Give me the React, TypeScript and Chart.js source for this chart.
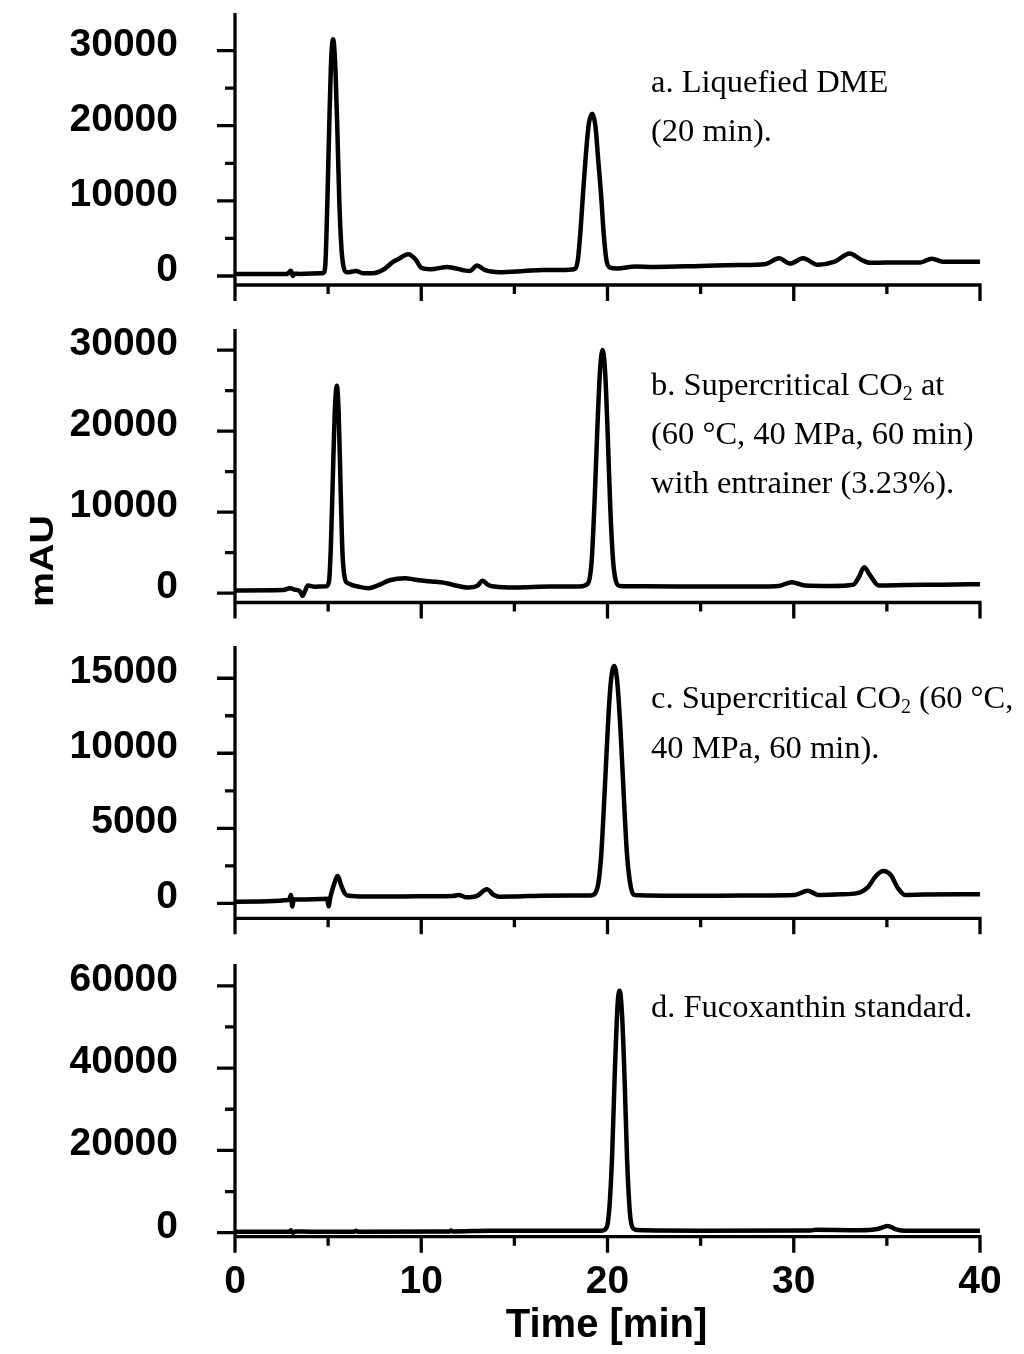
import React, { useEffect, useRef } from "react";
import { Chart, registerables } from "chart.js";

Chart.register(...registerables);

// ---------- data ----------
const X_MAJOR = [0, 10, 20, 30, 40];
const X_MINOR = [5, 15, 25, 35];
const X_LABELS = ["0", "10", "20", "30", "40"];
const X_TITLE = "Time [min]";
const Y_TITLE = "mAU";

const TIME_A = [0, 2.8, 3.0, 3.1, 3.2, 3.5, 4.6, 4.75, 4.85, 4.95, 5.05, 5.15, 5.27, 5.4, 5.5, 5.6, 5.72, 5.85, 6.0, 6.5, 6.9, 7.5, 8.0, 8.5, 8.8, 9.3, 9.7, 10.0, 10.5, 11.4, 12.2, 12.6, 13.0, 13.4, 14.2, 15.5, 16.5, 17.5, 18.2, 18.4, 18.55, 18.7, 18.85, 19.0, 19.18, 19.35, 19.5, 19.65, 19.8, 19.95, 20.15, 20.5, 21.5, 22.5, 25, 27, 28.5, 29.2, 29.8, 30.5, 31.3, 32.2, 33.0, 33.6, 34.1, 35, 36.8, 37.4, 38, 40];
const SIGNAL_A = [250, 270, 700, 0, 300, 280, 350, 400, 1500, 9000, 19000, 28000, 31500, 27000, 19000, 10000, 3500, 1000, 500, 650, 350, 400, 900, 1900, 2300, 2900, 2200, 1100, 900, 1200, 800, 650, 1400, 800, 500, 650, 800, 800, 900, 2000, 6000, 11500, 16500, 20300, 21600, 20000, 15500, 11000, 5500, 2000, 1100, 1000, 1250, 1200, 1330, 1450, 1600, 2350, 1650, 2350, 1500, 1900, 3000, 2200, 1750, 1800, 1800, 2300, 1900, 1900];

const TIME_B = [0, 2.6, 2.93, 3.2, 3.5, 3.63, 3.75, 3.91, 4.3, 4.9, 5.05, 5.15, 5.25, 5.35, 5.47, 5.57, 5.67, 5.77, 5.9, 6.05, 6.3, 6.6, 7.16, 7.7, 8.3, 9.14, 9.6, 10.55, 11.2, 11.68, 12.53, 13.0, 13.3, 13.6, 13.94, 15, 17, 18.5, 18.95, 19.15, 19.3, 19.45, 19.6, 19.74, 19.88, 20.02, 20.15, 20.3, 20.45, 20.65, 22, 25, 28, 29.2, 29.9, 30.6, 32, 33.2, 33.5, 33.78, 34.1, 34.57, 36, 38, 40];
const SIGNAL_B = [330, 380, 620, 450, 200, -330, 200, 950, 800, 850, 1500, 6000, 14000, 22000, 25600, 22000, 13000, 5000, 1800, 1250, 1000, 820, 620, 1000, 1600, 1850, 1700, 1450, 1300, 1050, 700, 900, 1520, 1000, 820, 700, 820, 820, 1200, 4000, 11000, 20000, 27500, 30000, 27000, 19000, 10500, 4000, 1500, 900, 850, 830, 820, 900, 1360, 950, 900, 1050, 2000, 3200, 2200, 950, 1000, 1050, 1110];

const TIME_C = [0, 2.9, 3.0, 3.08, 3.15, 3.5, 4.6, 4.95, 5.02, 5.12, 5.3, 5.52, 5.7, 5.9, 6.1, 7, 9, 11, 11.7, 12.0, 12.4, 13.0, 13.52, 13.9, 14.2, 15, 16.4, 18, 19.1, 19.45, 19.65, 19.85, 20.05, 20.2, 20.36, 20.52, 20.7, 20.88, 21.05, 21.25, 21.45, 23, 26, 28, 30.05, 30.76, 31.3, 32.5, 33.4, 34.0, 34.4, 34.8, 35.2, 35.6, 35.97, 37, 40];
const SIGNAL_C = [110, 220, 560, -220, 250, 250, 280, 300, -200, 400, 1200, 1820, 1200, 650, 500, 450, 460, 470, 480, 560, 400, 500, 930, 550, 444, 450, 510, 520, 520, 1000, 3000, 7500, 12500, 15000, 15820, 14800, 11500, 7000, 3200, 1100, 550, 510, 510, 520, 550, 844, 560, 600, 680, 1100, 1800, 2155, 1900, 1000, 560, 580, 600];

const TIME_D = [0, 2.9, 3.0, 3.1, 3.25, 4, 6.4, 6.5, 6.6, 11.5, 11.6, 11.7, 13.7, 19.7, 19.95, 20.1, 20.25, 20.4, 20.55, 20.65, 20.78, 20.92, 21.05, 21.2, 21.35, 21.6, 25, 30.9, 31.2, 33.5, 34.5, 35.04, 35.5, 36, 40];
const SIGNAL_D = [240, 250, 600, 0, 300, 250, 260, 500, 260, 300, 520, 300, 480, 500, 1200, 6000, 19000, 40000, 56000, 58800, 53000, 37000, 18000, 5000, 1200, 650, 500, 560, 700, 600, 900, 1620, 800, 450, 450];

const Y_MAJOR_A = [0, 10000, 20000, 30000];
const Y_MINOR_A = [5000, 15000, 25000];
const Y_MAJOR_B = [0, 10000, 20000, 30000];
const Y_MINOR_B = [5000, 15000, 25000];
const Y_MAJOR_C = [0, 5000, 10000, 15000];
const Y_MINOR_C = [2500, 7500, 12500];
const Y_MAJOR_D = [0, 20000, 40000, 60000];
const Y_MINOR_D = [10000, 30000, 50000];

const NOTE_A = ["a. Liquefied DME", "(20 min)."];
const NOTE_B = ["b. Supercritical CO₂ at", "(60 °C, 40 MPa, 60 min)", "with entrainer (3.23%)."];
const NOTE_C = ["c. Supercritical CO₂ (60 °C,", "40 MPa, 60 min)."];
const NOTE_D = ["d. Fucoxanthin standard."];

// ---------- layout / style ----------
const TICK_FONT = 'bold 39px "Liberation Sans", Arial, sans-serif';
const TITLE_FONT = 'bold 40px "Liberation Sans", Arial, sans-serif';
const NOTE_FONT = '32.5px "Liberation Serif", "Times New Roman", serif';
const SUB_FONT = '20px "Liberation Serif", "Times New Roman", serif';

type PanelCfg = {
  time: number[];
  signal: number[];
  yMajor: number[];
  yMinor: number[];
  notes: string[];
  top: number;
  height: number;
  padTop: number;
  padBottom: number;
  yMin: number;
  yMax: number;
  noteY: number;
  noteStep: number;
  extra?: "mau" | "xaxis";
};

const PANELS: PanelCfg[] = [
  { time: TIME_A, signal: SIGNAL_A, yMajor: Y_MAJOR_A, yMinor: Y_MINOR_A, notes: NOTE_A, top: 0, height: 320, padTop: 13, padBottom: 35, yMin: -1200, yMax: 35000, noteY: 92, noteStep: 49 },
  { time: TIME_B, signal: SIGNAL_B, yMajor: Y_MAJOR_B, yMinor: Y_MINOR_B, notes: NOTE_B, top: 320, height: 310, padTop: 9, padBottom: 27.5, yMin: -1150, yMax: 32600, noteY: 75, noteStep: 49, extra: "mau" },
  { time: TIME_C, signal: SIGNAL_C, yMajor: Y_MAJOR_C, yMinor: Y_MINOR_C, notes: NOTE_C, top: 630, height: 310, padTop: 16, padBottom: 21.7, yMin: -1000, yMax: 17150, noteY: 78, noteStep: 50 },
  { time: TIME_D, signal: SIGNAL_D, yMajor: Y_MAJOR_D, yMinor: Y_MINOR_D, notes: NOTE_D, top: 940, height: 414, padTop: 24, padBottom: 117.3, yMin: -970, yMax: 65300, noteY: 77, noteStep: 49, extra: "xaxis" },
];

function drawRich(ctx: CanvasRenderingContext2D, text: string, x: number, y: number) {
  const parts = text.split("₂");
  let cx = x;
  parts.forEach((part, i) => {
    ctx.font = NOTE_FONT;
    ctx.fillText(part, cx, y);
    cx += ctx.measureText(part).width;
    if (i < parts.length - 1) {
      ctx.font = SUB_FONT;
      ctx.fillText("2", cx, y + 5);
      cx += ctx.measureText("2").width;
    }
  });
}

function makeAxesPlugin(cfg: PanelCfg) {
  return {
    id: "hplcAxes",
    afterDraw(chart: any) {
      const { ctx, chartArea, scales } = chart;
      const { left, right, top, bottom } = chartArea;
      const xs = scales.x;
      const ys = scales.y;
      ctx.save();
      ctx.strokeStyle = "#000";
      ctx.fillStyle = "#000";
      ctx.lineWidth = 3.3;
      ctx.lineCap = "butt";
      ctx.beginPath();
      ctx.moveTo(left, top);
      ctx.lineTo(left, bottom + 16);
      ctx.moveTo(left - 1.6, bottom);
      ctx.lineTo(right + 1.6, bottom);
      X_MAJOR.forEach((v) => {
        const p = xs.getPixelForValue(v);
        ctx.moveTo(p, bottom);
        ctx.lineTo(p, bottom + 16);
      });
      X_MINOR.forEach((v) => {
        const p = xs.getPixelForValue(v);
        ctx.moveTo(p, bottom);
        ctx.lineTo(p, bottom + 9);
      });
      cfg.yMajor.forEach((v) => {
        const p = ys.getPixelForValue(v);
        ctx.moveTo(left - 18, p);
        ctx.lineTo(left, p);
      });
      cfg.yMinor.forEach((v) => {
        const p = ys.getPixelForValue(v);
        ctx.moveTo(left - 10, p);
        ctx.lineTo(left, p);
      });
      ctx.stroke();

      ctx.font = TICK_FONT;
      ctx.textAlign = "right";
      ctx.textBaseline = "alphabetic";
      cfg.yMajor.forEach((v) => {
        ctx.fillText(String(v), 178, ys.getPixelForValue(v) + 5);
      });

      ctx.textAlign = "left";
      cfg.notes.forEach((line, i) => {
        drawRich(ctx, line, 651, cfg.noteY + i * cfg.noteStep);
      });

      if (cfg.extra === "xaxis") {
        ctx.font = TICK_FONT;
        ctx.textAlign = "center";
        X_MAJOR.forEach((v, i) => {
          ctx.fillText(X_LABELS[i], xs.getPixelForValue(v), 353);
        });
        ctx.font = TITLE_FONT;
        ctx.fillText(X_TITLE, (left + right) / 2 - 1, 397);
      }
      if (cfg.extra === "mau") {
        ctx.font = 'bold 33px "Liberation Sans", Arial, sans-serif';
        ctx.textAlign = "center";
        ctx.textBaseline = "middle";
        const w = ctx.measureText(Y_TITLE).width;
        ctx.translate(44, 241);
        ctx.rotate(-Math.PI / 2);
        ctx.scale(92 / w, 1);
        ctx.fillText(Y_TITLE, 0, 0);
      }
      ctx.restore();
    },
  };
}

function Panel({ cfg }: { cfg: PanelCfg }) {
  const ref = useRef<HTMLCanvasElement>(null);
  useEffect(() => {
    const chart = new Chart(ref.current as HTMLCanvasElement, {
      type: "line",
      data: {
        datasets: [
          {
            data: cfg.time.map((t, i) => ({ x: t, y: cfg.signal[i] })),
            borderColor: "#000",
            borderWidth: 4.5,
            pointRadius: 0,
            fill: false,
            cubicInterpolationMode: "monotone",
            borderJoinStyle: "round",
          },
        ],
      },
      options: {
        responsive: false,
        animation: false,
        events: [],
        devicePixelRatio: 1,
        layout: { padding: { left: 235, right: 44, top: cfg.padTop, bottom: cfg.padBottom } },
        scales: {
          x: { type: "linear", min: 0, max: 40, display: false },
          y: { type: "linear", min: cfg.yMin, max: cfg.yMax, display: false },
        },
        plugins: { legend: { display: false }, tooltip: { enabled: false } },
      },
      plugins: [makeAxesPlugin(cfg)],
    } as any);
    return () => chart.destroy();
  }, [cfg]);
  return (
    <canvas
      ref={ref}
      width={1024}
      height={cfg.height}
      style={{ position: "absolute", left: 0, top: cfg.top, width: 1024, height: cfg.height }}
    />
  );
}

export default function App() {
  return (
    <div style={{ position: "absolute", left: 0, top: 0, width: 1024, height: 1354, background: "#fff", overflow: "hidden" }}>
      {PANELS.map((p, i) => (
        <Panel key={i} cfg={p} />
      ))}
    </div>
  );
}
